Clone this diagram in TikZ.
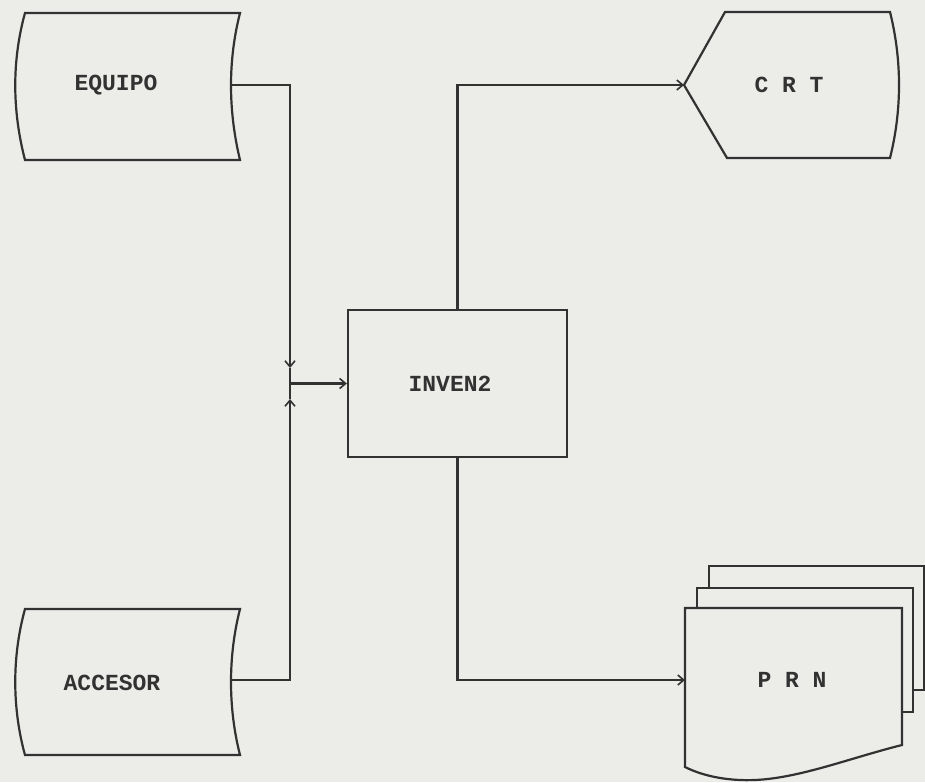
\documentclass[tikz,border=0pt]{standalone}
\usepackage{fontspec}
\setmonofont{Liberation Mono}
\usetikzlibrary{arrows.meta}
\definecolor{paper}{RGB}{236,236,233}
\definecolor{ink}{RGB}{50,50,50}
\begin{document}
\begin{tikzpicture}[x=1pt,y=-1pt,
  line/.style={draw=ink,line width=2.2pt,line join=miter},
  arr/.style={line,-{Straight Barb[length=6pt,width=10pt,line width=1.6pt]}},
  lbl/.style={text=ink,font=\ttfamily\bfseries\fontsize{23}{23}\selectfont,inner sep=0pt},
  sheet/.style={line,fill=paper}]
\fill[paper] (0,0) rectangle (925,782);
\useasboundingbox (0,0) rectangle (925,782);
% EQUIPO (stored data)
\draw[line] (25,13) -- (240,13) .. controls (228,60) and (228,110) .. (240,160)
  -- (25,160) .. controls (12,110) and (12,60) .. (25,13) -- cycle;
\node[lbl] (equipo) at (116,85) {EQUIPO};
\coordinate (eqR) at (231,85);
% ACCESOR (stored data)
\draw[line] (25,609) -- (240,609) .. controls (228,656) and (228,708) .. (240,755)
  -- (25,755) .. controls (12,708) and (12,656) .. (25,609) -- cycle;
\node[lbl] (accesor) at (112,683) {ACCESOR};
\coordinate (acR) at (231,680);
% INVEN2 process
\node[line,rectangle,minimum width=219pt,minimum height=147pt,inner sep=0pt] (inv) at (457.5,383.5) {};
\node[lbl] (invtext) at (450,384) {INVEN2};
% CRT display
\draw[line] (684,85) -- (725,12) -- (890,12) .. controls (902,60) and (902,110) .. (890,158)
  -- (727,158) -- cycle;
\coordinate (crtW) at (684,85);
\node[lbl] (crt) at (789,85) {C R T};
% PRN multi-document
\draw[sheet] (709,566) rectangle (923.9,690);
\draw[sheet] (697,588) rectangle (913,712);
\draw[sheet] (685,608) -- (902,608) -- (902,745)
  .. controls (850,758) and (800,778) .. (755,780)
  .. controls (730,781) and (705,777) .. (685,767) -- cycle;
\coordinate (prnW) at (685,680);
\node[lbl] (prn) at (792,680) {P R N};
% junction
\coordinate (jt) at (290,368);
\coordinate (jc) at (290,383.5);
\coordinate (jb) at (290,399);
\draw[arr] (eqR) -| (jt);
\draw[arr] (acR) -| (jb);
\draw[line] (jt) -- (jb);
\draw[arr] (jc) -- (inv.west);
\draw[arr] (inv.north) |- (crtW);
\draw[arr] (inv.south) |- (prnW);
\end{tikzpicture}
\end{document}
